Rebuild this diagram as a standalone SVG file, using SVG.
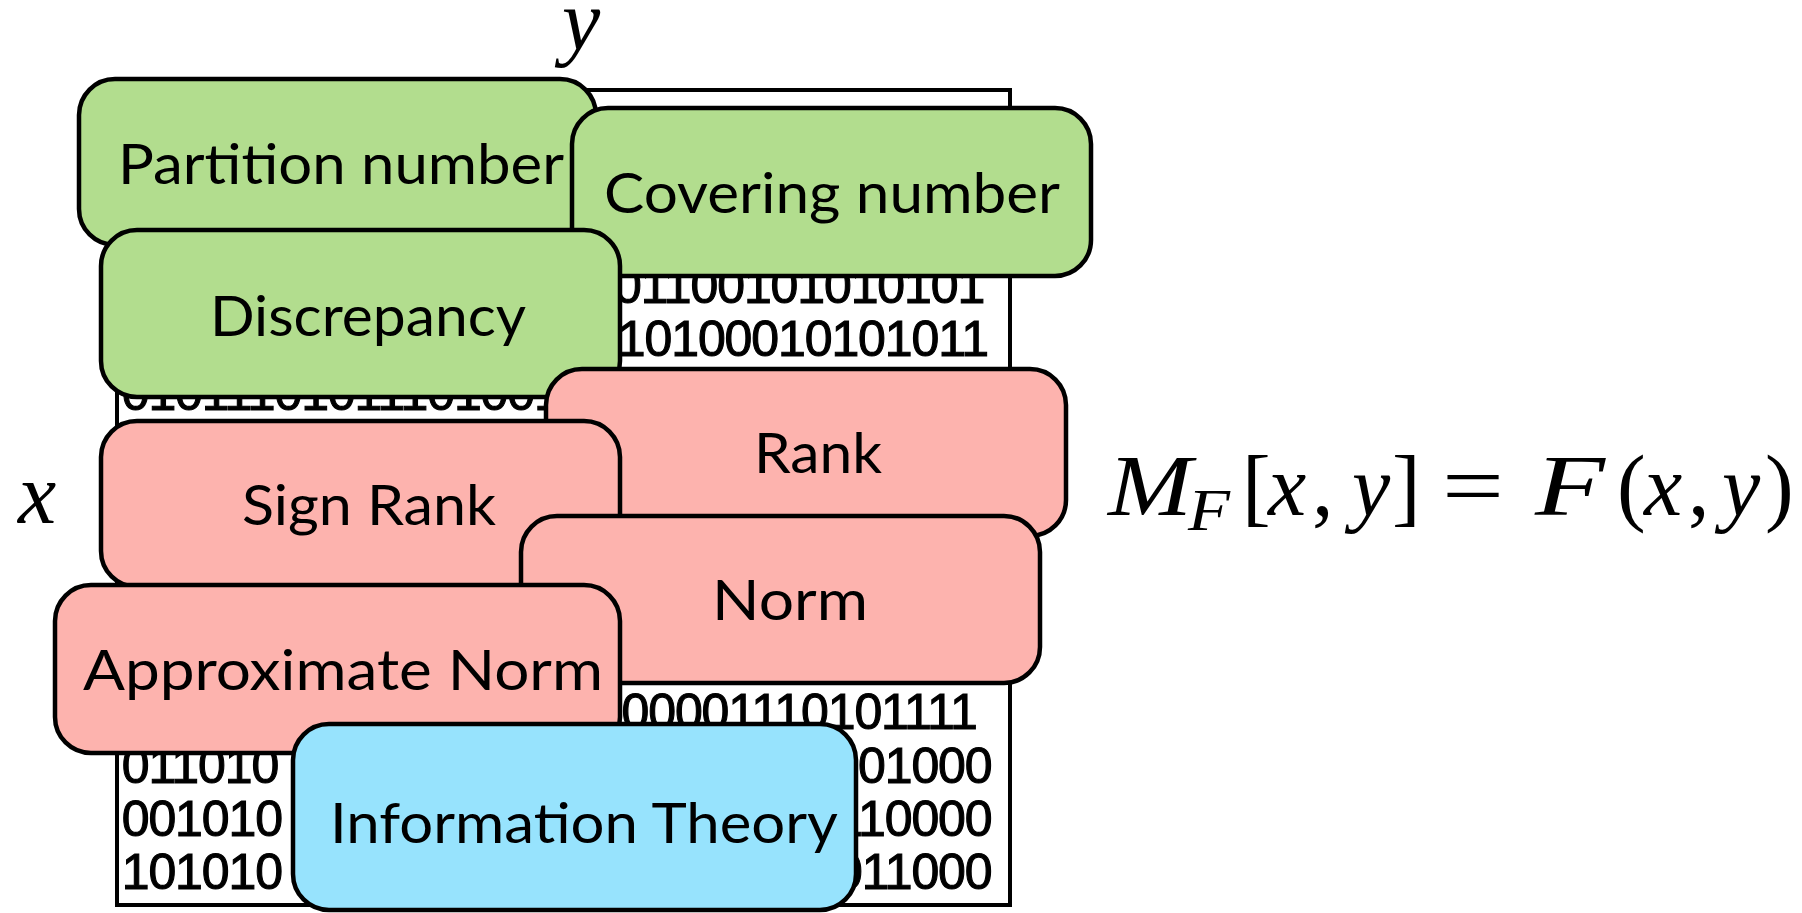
<svg xmlns="http://www.w3.org/2000/svg" width="1802" height="913" viewBox="0 0 1802 913">
<style>
.box{stroke:#000;stroke-width:4.5}
.g{fill:#b2dd8e}
.p{fill:#fdb3ae}
.b{fill:#97e3fd}
.lbl{font-family:Lato,"Noto Sans",sans-serif;font-size:56px;fill:#000}
.bits{font-family:"Liberation Sans",Arial,sans-serif;font-size:50px;letter-spacing:-1.11px;fill:#000;stroke:#000;stroke-width:1.1px}
.mi{font-family:"Liberation Serif","Times New Roman",serif;font-size:86px;font-style:italic;fill:#000}
.mr{font-family:"Liberation Serif","Times New Roman",serif;font-size:86px;fill:#000}
</style>
<rect width="1802" height="913" fill="#fff"/>
<g id="matrix">
<rect x="117" y="90" width="893" height="815" fill="#fff" stroke="#000" stroke-width="4"/>
<g class="bits">
<text x="121.7" y="196.4">101101001011010011010110010110100</text>
<text x="121.7" y="249.7">010011010110100101101001101010011</text>
<text x="121.7" y="303">110100101101001011101100101010101</text>
<text x="121.7" y="356.3">001011010010110100110100010101011</text>
<text x="121.7" y="409.6">010111010111010010110100101101001</text>
<text x="121.7" y="462.9">110010101101001011010010110100101</text>
<text x="121.7" y="516.2">001101010010110101001011010011010</text>
<text x="121.7" y="569.5">101001011010010110100101101001011</text>
<text x="121.7" y="622.8">010110100101101001011010010110100</text>
<text x="121.7" y="676.1">100101101001011010010110100101101</text>
<text x="121.7" y="729.4">011010010110100101000001110101111</text>
<text x="121.7" y="782.7">011010</text><text x="308.5" y="782.7">01101001011010010110101000</text>
<text x="121.7" y="836">001010</text><text x="308.5" y="836">10100101101001011010110000</text>
<text x="121.7" y="889.3">101010</text><text x="308.5" y="889.3">01011010010110100101011000</text>
</g>
</g>
<g id="axis-labels">
<text class="mi" x="562" y="49">y</text>
<text class="mi" x="18" y="523">x</text>
</g>
<g id="partition-number">
<rect class="box g" x="79" y="79" width="517" height="166" rx="36"/>
<text class="lbl" x="118" y="184" textLength="446" lengthAdjust="spacingAndGlyphs">Partition number</text>
</g>
<g id="covering-number">
<rect class="box g" x="572" y="108" width="519" height="168" rx="36"/>
<text class="lbl" x="604" y="213" textLength="456" lengthAdjust="spacingAndGlyphs">Covering number</text>
</g>
<g id="discrepancy">
<rect class="box g" x="101" y="230" width="519" height="167" rx="36"/>
<text class="lbl" x="210" y="336" textLength="316" lengthAdjust="spacingAndGlyphs">Discrepancy</text>
</g>
<g id="rank">
<rect class="box p" x="546" y="369" width="520" height="167" rx="36"/>
<text class="lbl" x="754" y="473" textLength="128" lengthAdjust="spacingAndGlyphs">Rank</text>
</g>
<g id="sign-rank">
<rect class="box p" x="101" y="421" width="519" height="166" rx="36"/>
<text class="lbl" x="242" y="525" textLength="254" lengthAdjust="spacingAndGlyphs">Sign Rank</text>
</g>
<g id="norm">
<rect class="box p" x="521" y="516" width="519" height="167" rx="36"/>
<text class="lbl" x="712" y="620" textLength="156" lengthAdjust="spacingAndGlyphs">Norm</text>
</g>
<g id="approximate-norm">
<rect class="box p" x="55" y="585" width="565" height="168" rx="36"/>
<text class="lbl" x="83" y="690" textLength="520" lengthAdjust="spacingAndGlyphs">Approximate Norm</text>
</g>
<g id="information-theory">
<rect class="box b" x="293" y="724" width="563" height="186" rx="36"/>
<text class="lbl" x="330" y="843" textLength="508" lengthAdjust="spacingAndGlyphs">Information Theory</text>
</g>
<g id="formula">
<text class="mi" x="1108" y="515" textLength="84" lengthAdjust="spacingAndGlyphs">M</text>
<text class="mi" x="1188" y="530" style="font-size:60px" textLength="42" lengthAdjust="spacingAndGlyphs">F</text>
<text class="mr" x="1242" y="515">[</text>
<text class="mi" x="1268" y="515">x</text>
<text class="mr" x="1312" y="515">,</text>
<text class="mi" x="1352" y="515">y</text>
<text class="mr" x="1392" y="515">]</text>
<text class="mr" x="1442" y="515" textLength="62" lengthAdjust="spacingAndGlyphs">=</text>
<text class="mi" x="1535" y="515" textLength="70" lengthAdjust="spacingAndGlyphs">F</text>
<text class="mr" x="1617" y="515">(</text>
<text class="mi" x="1644" y="515">x</text>
<text class="mr" x="1688" y="515">,</text>
<text class="mi" x="1722" y="515">y</text>
<text class="mr" x="1765" y="515">)</text>
</g>
</svg>
